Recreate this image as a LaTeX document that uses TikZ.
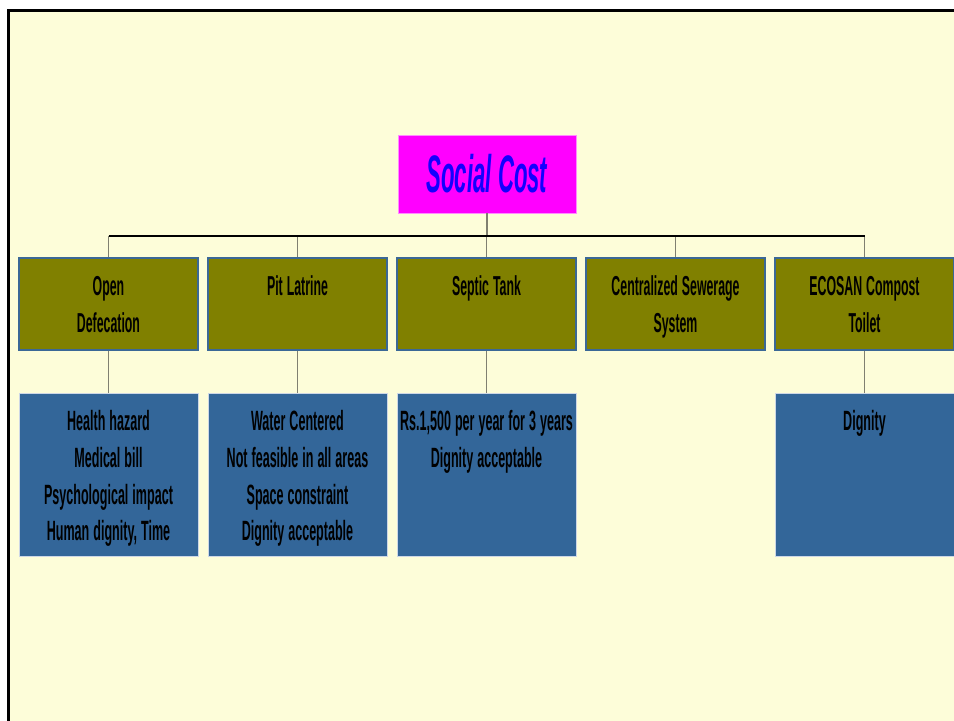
\documentclass[tikz,border=0pt]{standalone}
\usepackage{fontspec}
\usepackage{tikz}
\usetikzlibrary{calc}
\newfontfamily\titlefont{Liberation Sans}[FakeStretch=0.42]
\newfontfamily\boxfont{Liberation Sans}[FakeStretch=0.45]
\newcommand\kindfont{\boxfont\bfseries\fontsize{27.5}{37}\selectfont\spaceskip 4bp\relax}
\newcommand\notefont{\boxfont\bfseries\fontsize{28}{37}\selectfont\spaceskip 4bp\relax}
\definecolor{Paper}{RGB}{253,253,217}
\definecolor{Pink}{RGB}{255,0,255}
\definecolor{Ink}{RGB}{20,0,255}
\definecolor{Olive}{RGB}{128,128,0}
\definecolor{Steel}{RGB}{51,102,153}
\definecolor{Edge}{RGB}{59,104,150}
\definecolor{Pale}{RGB}{205,215,230}
\definecolor{Link}{RGB}{128,128,112}
\tikzset{
	costbox/.style={draw=Pink!45!white,fill=Pink,line width=0.8bp,minimum width=178bp,minimum height=78bp,inner sep=0pt,
		font=\titlefont\bfseries\itshape\fontsize{53}{53}\selectfont,text=Ink},
	kindbox/.style={draw=Edge,fill=Olive,line width=1.5bp,anchor=north,text width=179bp,align=flush center,inner sep=0pt,
		text height=38bp,text depth=54bp,font=\kindfont},
	notebox/.style={draw=Pale,fill=Steel,line width=0.8bp,anchor=north,text width=179bp,align=flush center,inner sep=0pt,
		text height=37bp,text depth=126bp,font=\notefont},
	link/.style={draw=Link,line width=1.2bp},
}

\begin{document}
\begin{tikzpicture}[x=1bp,y=-1bp]
	\useasboundingbox (0,0) rectangle (954,721);
	\clip (0,0) rectangle (954,721);

	\fill[white] (0,0) rectangle (954,721);
	\draw[black,line width=3bp,fill=Paper] (8.7,10.7) rectangle (1000,760);

	% top of the chart
	\node[costbox] (social) at (487,174) {Social Cost};
	\coordinate (bus) at (487,236);

	% second row
	\node[kindbox] (open) at (108.5,257) {Open\\Defecation};
	\node[kindbox] (pit) at (297.5,257) {Pit Latrine};
	\node[kindbox] (septic) at (486.5,257) {Septic Tank};
	\node[kindbox] (sewer) at (675.5,257) {Centralized Sewerage\\System};
	\node[kindbox] (ecosan) at (864.5,257) {ECOSAN Compost\\Toilet};

	% third row
	\node[notebox] (opennote) at (108.5,393) {Health hazard\\Medical bill\\Psychological impact\\Human dignity, Time};
	\node[notebox] (pitnote) at (297.5,393) {Water Centered\\Not feasible in all areas\\Space constraint\\Dignity acceptable};
	\node[notebox] (septicnote) at (486.5,393) {Rs.1,500 per year for 3 years\\Dignity acceptable};
	\node[notebox] (ecosannote) at (864.5,393) {Dignity};

	% connectors
	\draw[link] (social.south) -- (bus);
	\draw[link] (open.north |- bus) -- (open.north);
	\draw[link] (pit.north |- bus) -- (pit.north);
	\draw[link] (septic.north |- bus) -- (septic.north);
	\draw[link] (sewer.north |- bus) -- (sewer.north);
	\draw[link] (ecosan.north |- bus) -- (ecosan.north);
	\draw[black,line width=2bp] (open.north |- bus) -- (ecosan.north |- bus);

	\draw[link] (open.south) -- (opennote.north);
	\draw[link] (pit.south) -- (pitnote.north);
	\draw[link] (septic.south) -- (septicnote.north);
	\draw[link] (ecosan.south) -- (ecosannote.north);

\end{tikzpicture}
\end{document}
